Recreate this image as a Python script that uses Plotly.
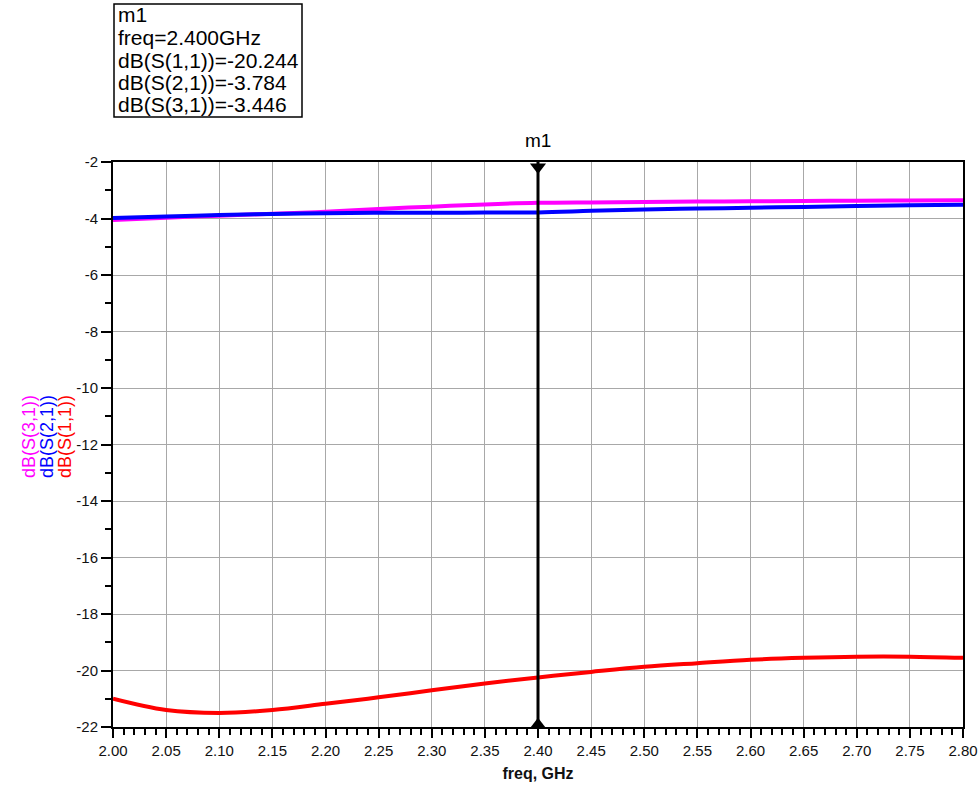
import plotly.graph_objects as go

freq = [2.00, 2.05, 2.10, 2.15, 2.20, 2.25, 2.30, 2.35, 2.40, 2.45, 2.50, 2.55, 2.60, 2.65, 2.70, 2.75, 2.80]
s11 = [-21.00, -21.40, -21.50, -21.40, -21.18, -20.95, -20.70, -20.46, -20.244, -20.05, -19.87, -19.74, -19.62, -19.55, -19.51, -19.51, -19.55]
s21 = [-3.98, -3.93, -3.88, -3.84, -3.81, -3.80, -3.80, -3.79, -3.784, -3.73, -3.68, -3.65, -3.62, -3.59, -3.56, -3.53, -3.51]
s31 = [-4.05, -3.97, -3.90, -3.83, -3.76, -3.66, -3.58, -3.50, -3.446, -3.43, -3.42, -3.40, -3.39, -3.38, -3.37, -3.36, -3.35]

marker_freq = 2.40
marker_text = ["m1", "freq=2.400GHz", "dB(S(1,1))=-20.244", "dB(S(2,1))=-3.784", "dB(S(3,1))=-3.446"]
x_ticks = [2.00, 2.05, 2.10, 2.15, 2.20, 2.25, 2.30, 2.35, 2.40, 2.45, 2.50, 2.55, 2.60, 2.65, 2.70, 2.75, 2.80]
y_ticks = [-2, -4, -6, -8, -10, -12, -14, -16, -18, -20, -22]

FONT = "Liberation Sans, Arial, sans-serif"
PLOT_H = 565.0
PLOT_W = 850.0

fig = go.Figure()
fig.add_trace(go.Scatter(x=freq, y=s31, mode="lines", line=dict(color="#ff00ff", width=4, shape="spline"), name="dB(S(3,1))"))
fig.add_trace(go.Scatter(x=freq, y=s21, mode="lines", line=dict(color="#0000ff", width=4, shape="spline"), name="dB(S(2,1))"))
fig.add_trace(go.Scatter(x=freq, y=s11, mode="lines", line=dict(color="#ff0000", width=4, shape="spline"), name="dB(S(1,1))"))

# marker line and triangles
fig.add_shape(type="line", x0=marker_freq, x1=marker_freq, xref="x", yref="paper", y0=0, y1=1,
              line=dict(color="black", width=3))
fig.add_trace(go.Scatter(x=[marker_freq], y=[-2.18], mode="markers", cliponaxis=False,
                         marker=dict(symbol="triangle-down", size=14, color="black")))
fig.add_trace(go.Scatter(x=[marker_freq], y=[-21.9], mode="markers", cliponaxis=False,
                         marker=dict(symbol="triangle-up", size=13, color="black")))
fig.add_annotation(x=marker_freq, y=1, xref="x", yref="paper", text="m1", showarrow=False,
                   yanchor="bottom", yshift=9, font=dict(size=19, color="black", family=FONT))

# marker readout box (pixel positions relative to plot area)
def py(pix):
    return (727 - pix) / PLOT_H

def px(pix):
    return (pix - 113) / PLOT_W

fig.add_shape(type="rect", xref="paper", yref="paper", x0=px(114), x1=px(302), y0=py(117), y1=py(4),
              line=dict(color="black", width=1.5), fillcolor="white", layer="above")
for i, line in enumerate(marker_text):
    fig.add_annotation(x=px(116), y=py(15 + 22.5 * i), xref="paper", yref="paper", xanchor="left", yanchor="middle",
                       text=line, showarrow=False, align="left",
                       font=dict(size=21, color="black", family=FONT))

# colored y-axis titles
for xpix, txt, col in [(17, "dB(S(3,1))", "#ff00ff"), (35, "dB(S(2,1))", "#0000ff"), (53, "dB(S(1,1))", "#ff0000")]:
    fig.add_annotation(x=px(xpix), y=py(437), xref="paper", yref="paper", text=txt, textangle=-90, showarrow=False,
                       font=dict(size=18, color=col, family=FONT))

axis_font = dict(size=15, color="#111", family=FONT)
fig.update_xaxes(range=[2.0, 2.8], tickvals=x_ticks, ticktext=[f"{v:.2f}" for v in x_ticks],
                 showgrid=True, gridcolor="#a8a8a8", gridwidth=1,
                 showline=True, linecolor="black", linewidth=2, mirror=True,
                 ticks="outside", ticklen=9, tickwidth=2, tickcolor="black",
                 minor=dict(dtick=0.01, tick0=2.0, ticks="outside", ticklen=6, tickwidth=1.5, tickcolor="black", showgrid=False),
                 tickfont=axis_font, zeroline=False, automargin=False,
                 title=dict(text="<b>freq, GHz</b>", font=dict(size=16, color="#111", family=FONT), standoff=10))
fig.update_yaxes(range=[-22, -2], tickvals=y_ticks, ticktext=[str(v) for v in y_ticks],
                 showgrid=True, gridcolor="#a8a8a8", gridwidth=1,
                 showline=True, linecolor="black", linewidth=2, mirror=True,
                 ticks="outside", ticklen=10, tickwidth=2, tickcolor="black",
                 minor=dict(dtick=1, tick0=-2, ticks="outside", ticklen=6, tickwidth=1.5, tickcolor="black", showgrid=False),
                 tickfont=axis_font, zeroline=False, automargin=False)

fig.update_layout(width=979, height=790, autosize=False, margin=dict(l=113, r=16, t=162, b=63, autoexpand=False),
                  plot_bgcolor="white", paper_bgcolor="white", showlegend=False)

fig.write_html("out.html", config={"displayModeBar": False, "responsive": False},
               post_script="document.body.style.margin='0';document.body.style.overflow='hidden';")
